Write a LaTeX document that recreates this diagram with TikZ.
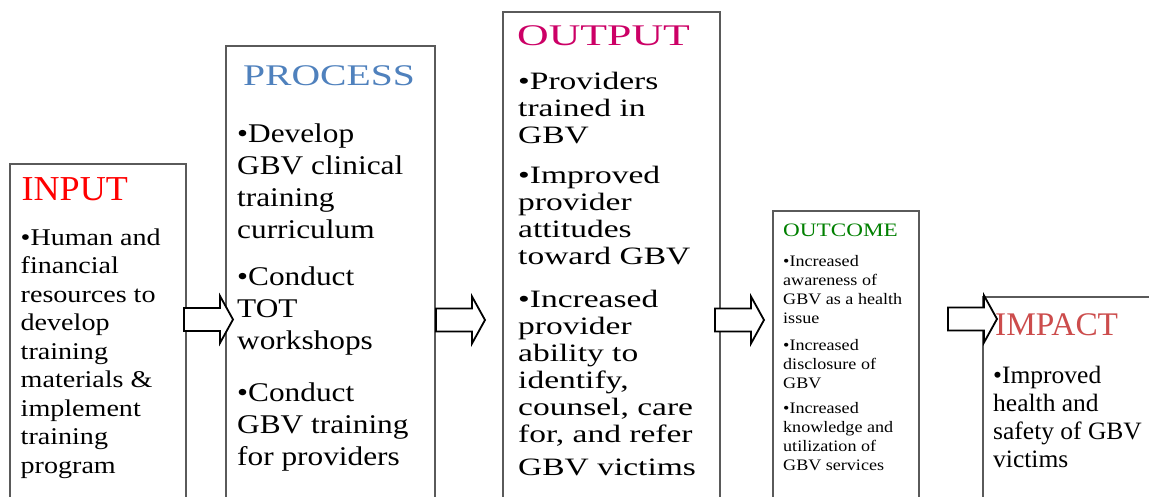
\documentclass[tikz,border=0pt]{standalone}
\usepackage{fontspec}
\setmainfont{Liberation Serif}
% stretched serif faces for the stage titles and bullet texts
\newfontfamily\fInT[FakeStretch=1.03]{Liberation Serif}
\newfontfamily\fInB[FakeStretch=1.17]{Liberation Serif}
\newfontfamily\fPrT[FakeStretch=1.32]{Liberation Serif}
\newfontfamily\fPrB[FakeStretch=1.16]{Liberation Serif}
\newfontfamily\fOpT[FakeStretch=1.46]{Liberation Serif}
\newfontfamily\fOpB[FakeStretch=1.34]{Liberation Serif}
\newfontfamily\fOcT[FakeStretch=1.22]{Liberation Serif}
\newfontfamily\fOcB[FakeStretch=1.13]{Liberation Serif}
\newfontfamily\fImT[FakeStretch=1.01]{Liberation Serif}
\newfontfamily\fImB[FakeStretch=1.02]{Liberation Serif}

\definecolor{inred}{HTML}{FF0000}
\definecolor{problue}{HTML}{4F81BD}
\definecolor{outmag}{HTML}{CC0066}
\definecolor{ocgreen}{HTML}{008000}
\definecolor{imred}{HTML}{CC4C4C}
\definecolor{framegray}{HTML}{5A5A5A}

% multi-line texts are placed by the baseline of their last line
\tikzset{
  stagebox/.style={draw=framegray, line width=1.4pt, fill=white,
    anchor=north west, inner sep=0pt, outer sep=0pt},
  stagetitle/.style={anchor=base west, inner sep=0pt},
  stagetext/.style={anchor=base west, inner sep=0pt, align=left, text=black},
  blockarrow/.pic={
    \draw[line width=1.8pt, fill=white, line join=miter]
      (0,-11.5) -- (36,-11.5) -- (36,-23.5) -- (49,0) -- (36,23.5)
      -- (36,11.5) -- (0,11.5) -- cycle;
  }
}

\begin{document}
\begin{tikzpicture}[x=1pt, y=-1pt]
\useasboundingbox (0,0) rectangle (1149,496);
\clip (0,0) rectangle (1149,496);

% stage frames (they run past the lower edge)
\node[stagebox, minimum width=176pt, minimum height=360pt] (input)   at (10,164)  {};
\node[stagebox, minimum width=209pt, minimum height=480pt] (process) at (226,46)  {};
\node[stagebox, minimum width=217pt, minimum height=510pt] (output)  at (503,12)  {};
\node[stagebox, minimum width=146pt, minimum height=310pt] (outcome) at (773,211) {};
\node[stagebox, minimum width=190pt, minimum height=230pt] (impact)  at (983,297) {};

% INPUT
\node[stagetitle, text=inred, font=\fontsize{35}{40}\fInT] (inT) at (21.5,200) {INPUT};
\node[stagetext, font=\fontsize{24}{28.5}\fInB] (inB) at (20.5,473)
  {•Human and\\financial\\resources to\\develop\\training\\materials \&\\implement\\training\\program};

% PROCESS
\node[stagetitle, text=problue, font=\fontsize{30}{34}\fPrT] (prT) at (243,85) {PROCESS};
\node[stagetext, font=\fontsize{27}{32}\fPrB] (prA) at (237,238)
  {•Develop\\GBV clinical\\training\\curriculum};
\node[stagetext, font=\fontsize{27}{32}\fPrB] (prB) at (237,349)
  {•Conduct\\TOT\\workshops};
\node[stagetext, font=\fontsize{27}{32}\fPrB] (prC) at (237,465)
  {•Conduct\\GBV training\\for providers};

% OUTPUT
\node[stagetitle, text=outmag, font=\fontsize{30}{34}\fOpT] (opT) at (517,45) {OUTPUT};
\node[stagetext, font=\fontsize{25}{27}\fOpB] (opA) at (518,143)
  {•Providers\\trained in\\GBV};
\node[stagetext, font=\fontsize{25}{27}\fOpB] (opB) at (518,264)
  {•Improved\\provider\\attitudes\\toward GBV};
\node[stagetext, font=\fontsize{25}{27}\fOpB] (opC) at (518,475)
  {•Increased\\provider\\ability to\\identify,\\counsel, care\\for, and refer\\[6pt]GBV victims};

% OUTCOME
\node[stagetitle, text=ocgreen, font=\fontsize{19}{22}\fOcT] (ocT) at (783,236) {OUTCOME};
\node[stagetext, font=\fontsize{16}{19}\fOcB] (ocA) at (783,323)
  {•Increased\\awareness of\\GBV as a health\\issue};
\node[stagetext, font=\fontsize{16}{19}\fOcB] (ocB) at (783,388)
  {•Increased\\disclosure of\\GBV};
\node[stagetext, font=\fontsize{16}{19}\fOcB] (ocC) at (783,470)
  {•Increased\\knowledge and\\utilization of\\GBV services};

% IMPACT
\node[stagetitle, text=imred, font=\fontsize{33}{38}\fImT] (imT) at (995,335) {IMPACT};
\node[stagetext, font=\fontsize{25}{27.7}\fImB] (imB) at (993,467)
  {•Improved\\health and\\safety of GBV\\victims};

% block arrows between the stages
\coordinate (a1) at (184,319.5);
\coordinate (a2) at (436,320);
\coordinate (a3) at (715,320);
\coordinate (a4) at (948,319);
\pic at (a1) {blockarrow};
\pic at (a2) {blockarrow};
\pic at (a3) {blockarrow};
\pic at (a4) {blockarrow};
\end{tikzpicture}
\end{document}
